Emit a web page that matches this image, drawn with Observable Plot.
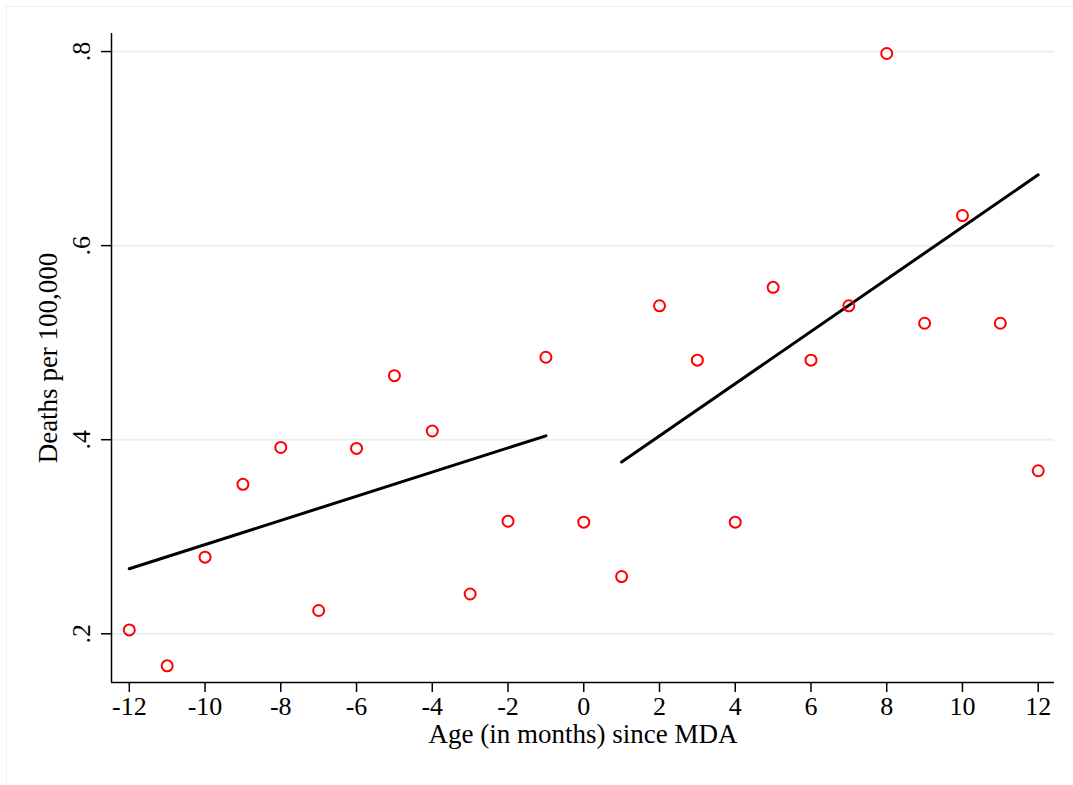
<!DOCTYPE html>
<html>
<head>
<meta charset="utf-8">
<script src="https://cdn.jsdelivr.net/npm/d3@7"></script>
<script src="https://cdn.jsdelivr.net/npm/@observablehq/plot@0.6"></script>
<style>
  html, body { margin: 0; padding: 0; background: #fff; }
  #wrap { position: relative; width: 1073px; height: 785px; overflow: hidden; }
  #frame { position: absolute; left: 6px; top: 6px; width: 1080px; height: 800px; border: 1.5px solid #eaf1f2; box-sizing: border-box; pointer-events: none; }
  #chart { position: absolute; left: 0; top: 0; }
</style>
</head>
<body>
<div id="wrap"><div id="frame"></div><div id="chart"></div></div>
<script>
// Monthly age relative to MDA
const months = [-12,-11,-10,-9,-8,-7,-6,-5,-4,-3,-2,-1,0,1,2,3,4,5,6,7,8,9,10,11,12];
// Deaths per 100,000
const deaths = [0.204,0.167,0.279,0.354,0.392,0.224,0.391,0.466,0.409,0.241,0.316,0.485,
                0.315,0.259,0.538,0.482,0.315,0.557,0.482,0.538,0.798,0.520,0.631,0.520,0.368];
// Fitted lines (endpoints) before and after MDA
const fitBeforeX = [-12, -1];
const fitBeforeY = [0.267, 0.404];
const fitAfterX = [1, 12];
const fitAfterY = [0.377, 0.673];
// Ticks
const xTicks = [-12,-10,-8,-6,-4,-2,0,2,4,6,8,10,12];
const yTicks = [0.2, 0.4, 0.6, 0.8];
const yTickLabels = [".2", ".4", ".6", ".8"];

const points = months.map((m, i) => ({m, d: deaths[i]}));
const fitBefore = fitBeforeX.map((x, i) => ({x, y: fitBeforeY[i]}));
const fitAfter = fitAfterX.map((x, i) => ({x, y: fitAfterY[i]}));

const font = "'Liberation Serif', 'Times New Roman', serif";

const chart = Plot.plot({
  width: 1073,
  height: 785,
  marginLeft: 111,
  marginRight: 19,
  marginTop: 33,
  marginBottom: 103,
  style: {fontFamily: font, fontSize: "26px", color: "#000", background: "transparent"},
  x: {domain: [-12.47, 12.43], ticks: xTicks, label: null},
  y: {domain: [0.1498, 0.8186], ticks: yTicks, label: null},
  marks: [
    Plot.ruleY(yTicks, {stroke: "#e8f1f2", strokeWidth: 2}),
    Plot.axisX({ticks: xTicks, tickSize: 10, tickPadding: 4, tickFormat: d => d < 0 ? "-" + Math.abs(d) : String(d), fontSize: 26, strokeWidth: 1.5}),
    Plot.axisY({ticks: yTicks, tickSize: 10, tickPadding: 12, tickFormat: d => yTickLabels[yTicks.indexOf(d)], fontSize: 26, textAnchor: "middle", tickRotate: -90, strokeWidth: 1.5}),
    Plot.ruleX([-12.47], {stroke: "#000", strokeWidth: 1.5}),
    Plot.ruleY([0.1498], {stroke: "#000", strokeWidth: 1.5}),
    Plot.line(fitBefore, {x: "x", y: "y", stroke: "#000", strokeWidth: 3}),
    Plot.line(fitAfter, {x: "x", y: "y", stroke: "#000", strokeWidth: 3}),
    Plot.dot(points, {x: "m", y: "d", r: 5.5, stroke: "#ff0000", strokeWidth: 2, fill: "none"}),
    Plot.text(["Age (in months) since MDA"], {frameAnchor: "bottom", dy: 60, fontSize: 27, fill: "#000"}),
    Plot.text(["Deaths per 100,000"], {frameAnchor: "left", dx: -63, rotate: -90, textAnchor: "middle", fontSize: 27, fill: "#000"})
  ]
});
document.getElementById("chart").appendChild(chart);
</script>
</body>
</html>
